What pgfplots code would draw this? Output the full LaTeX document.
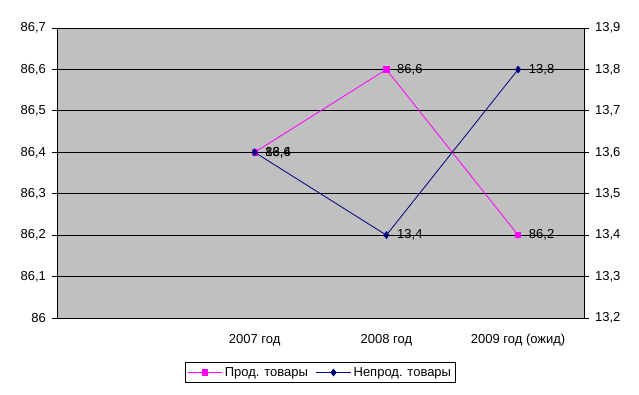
\documentclass[border=0pt]{standalone}
\usepackage{fontspec}
\setmainfont{Liberation Sans}
\usepackage{pgfplots}
\pgfplotsset{compat=1.18}
\definecolor{plotgray}{HTML}{C0C0C0}
\definecolor{mymag}{HTML}{FF00FF}
\definecolor{mynavy}{HTML}{000080}
\pgfplotsset{
  common/.style={
    at={(0,0)}, anchor=south west,
    scale only axis, width=395.25pt, height=217.5pt,
    xmin=-0.5, xmax=3.5,
    font=\fontsize{9.75}{11}\selectfont,
    /pgf/number format/assume math mode=true,
    /pgf/number format/use comma,
    tick style={black, line width=0.6pt},
    tick align=outside,
    major tick length=3.75pt,
    axis line style={black, line width=0.6pt},
    nodes near coords,
    nodes near coords align={anchor=west},
    every node near coord/.append style={font=\fontsize{9.75}{11}\selectfont, xshift=4.5pt, black, /pgf/number format/assume math mode=true, /pgf/number format/use comma},
  }
}
\begin{document}
\begin{tikzpicture}
\useasboundingbox (-42.75pt,-57pt) rectangle (436.5pt,238.5pt);
\fill[plotgray] (0,0) rectangle (395.25pt,217.5pt);
\begin{axis}[common,
  axis y line*=left,
  axis x line*=bottom,
  ymin=86, ymax=86.7,
  ytick={86,86.1,86.2,86.3,86.4,86.5,86.6,86.7},
  yticklabels={86,{86,1},{86,2},{86,3},{86,4},{86,5},{86,6},{86,7}},
  ymajorgrids, grid style={black, line width=0.6pt},
  xtick={0,1,2,3},
  xticklabels={,2007 год,2008 год,2009 год (ожид)},
  xtick style={draw=none},
  minor xtick={-0.5,0.5,1.5,2.5,3.5},
  minor tick length=3.75pt,
  minor tick style={black, line width=0.6pt},
  xticklabel style={yshift=-5pt},
  yticklabel style={xshift=-1pt},
  clip=false,
]
\addplot[mymag, line width=0.6pt, mark=square*, mark size=2pt, mark options={solid, fill=mymag}] coordinates {(1,86.4) (2,86.6) (3,86.2)};
\end{axis}
\begin{axis}[common,
  axis y line*=right,
  axis x line=none,
  ymin=13.2, ymax=13.9,
  ytick={13.2,13.3,13.4,13.5,13.6,13.7,13.8,13.9},
  yticklabels={{13,2},{13,3},{13,4},{13,5},{13,6},{13,7},{13,8},{13,9}},
  yticklabel style={xshift=1pt},
  clip=false,
  legend style={at={(0.5,0)}, anchor=north, yshift=-33pt, draw=black, line width=0.6pt,
    font=\fontsize{9.75}{11}\selectfont, inner sep=1.5pt,
    /tikz/every even column/.append style={column sep=4pt}},
  legend columns=2,
  legend cell align=left,
  legend image code/.code={\draw[#1, mark=none] (0cm,0cm) -- (0.9cm,0cm); \draw[#1, only marks] plot coordinates {(0.45cm,0cm)};},
]
\addlegendimage{mymag, line width=0.6pt, mark=square*, mark size=2pt, mark options={solid, fill=mymag}}
\addlegendentry{Прод. товары}
\addplot[mynavy, line width=0.6pt, mark=diamond*, mark size=2.5pt, mark options={solid, fill=mynavy}] coordinates {(1,13.6) (2,13.4) (3,13.8)};
\addlegendentry{Непрод. товары}
\end{axis}
\end{tikzpicture}
\end{document}
